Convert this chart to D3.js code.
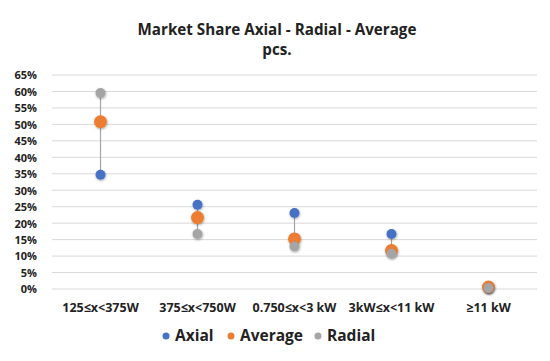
<!DOCTYPE html>
<html>
<head>
<meta charset="utf-8">
<script src="https://cdn.jsdelivr.net/npm/d3@7"></script>
<style>
body{margin:0;background:#fff;}
text{font-family:"Open Sans","Liberation Sans",sans-serif;font-weight:bold;fill:#222;}
</style>
</head>
<body>
<svg id="Viz"></svg>
<script>
// data
let categories = ["125≤x<375W", "375≤x<750W", "0.750≤x<3 kW", "3kW≤x<11 kW", "≥11 kW"];
let axial   = [34.7, 25.6, 23.1, 16.7, 0.1];
let average = [50.8, 21.7, 15.2, 11.7, 0.6];
let radial  = [59.5, 16.7, 12.9, 10.7, 0.3];
let yTicks = [0,5,10,15,20,25,30,35,40,45,50,55,60,65];

let Width = 550, Height = 361;
let margin = {top:75, right:13, bottom:72, left:52};

let svg = d3.select("#Viz").attr("width", Width).attr("height", Height);

let xScale = d3.scaleBand().domain(categories).range([margin.left, Width-margin.right]);
let yScale = d3.scaleLinear().domain([0,65]).range([Height-margin.bottom, margin.top]);

// title
svg.append("text").attr("x", 277).attr("y", 35).attr("text-anchor","middle")
  .style("font-size","15.2px").text("Market Share Axial - Radial - Average");
svg.append("text").attr("x", 277).attr("y", 55).attr("text-anchor","middle")
  .style("font-size","15.2px").text("pcs.");

// grid
svg.append("g").selectAll("line").data(yTicks).enter().append("line")
  .attr("x1", margin.left).attr("x2", Width-margin.right)
  .attr("y1", d => yScale(d)).attr("y2", d => yScale(d))
  .attr("stroke", "#d9d9d9").attr("stroke-width", 1);

// y axis labels
let yAxis = svg.append("g").attr("transform","translate(40,0)")
  .call(d3.axisLeft(yScale).tickValues(yTicks).tickFormat(d => d+"%").tickSize(0));
yAxis.select(".domain").remove();
yAxis.selectAll("text").style("font-size","11px").attr("dy","0.35em");

// x axis labels
let xAxis = svg.append("g").attr("transform","translate(0,"+(Height-margin.bottom)+")")
  .call(d3.axisBottom(xScale).tickSize(0).tickPadding(14));
xAxis.select(".domain").remove();
xAxis.selectAll("text").style("font-size","12.5px");

// high-low lines
let rows = categories.map((c,i) => ({c:c, vals:[axial[i], average[i], radial[i]]}));
svg.append("g").selectAll("line").data(rows).enter().append("line")
  .attr("x1", d => xScale(d.c)+xScale.bandwidth()/2)
  .attr("x2", d => xScale(d.c)+xScale.bandwidth()/2)
  .attr("y1", d => yScale(d3.max(d.vals)))
  .attr("y2", d => yScale(d3.min(d.vals)))
  .attr("stroke","#a5a5a5").attr("stroke-width",1.2);

let series = [
  {name:"Axial", values:axial, color:"#4472c4", r:5},
  {name:"Average", values:average, color:"#ed7d31", r:6.5},
  {name:"Radial", values:radial, color:"#a5a5a5", r:5}
];

let defs = svg.append("defs");
defs.append("filter").attr("id","sh").attr("x","-50%").attr("y","-50%").attr("width","200%").attr("height","200%")
  .append("feDropShadow").attr("dx",0.5).attr("dy",1).attr("stdDeviation",0.8).attr("flood-opacity",0.35);

series.forEach(s => {
  svg.append("g").selectAll("circle").data(s.values).enter().append("circle")
    .attr("cx", (d,i) => xScale(categories[i])+xScale.bandwidth()/2)
    .attr("cy", d => yScale(d))
    .attr("r", s.r)
    .attr("fill", s.color)
    .attr("filter","url(#sh)");
});

// legend
let legendX = [166, 231, 318];
let lg = svg.append("g").selectAll("g").data(series).enter().append("g")
  .attr("transform", (d,i) => "translate("+legendX[i]+",336)");
lg.append("circle").attr("r",3.5).attr("fill", d => d.color);
lg.append("text").attr("x",9).attr("dy","0.35em").style("font-size","15.5px").text(d => d.name);
</script>
</body>
</html>
